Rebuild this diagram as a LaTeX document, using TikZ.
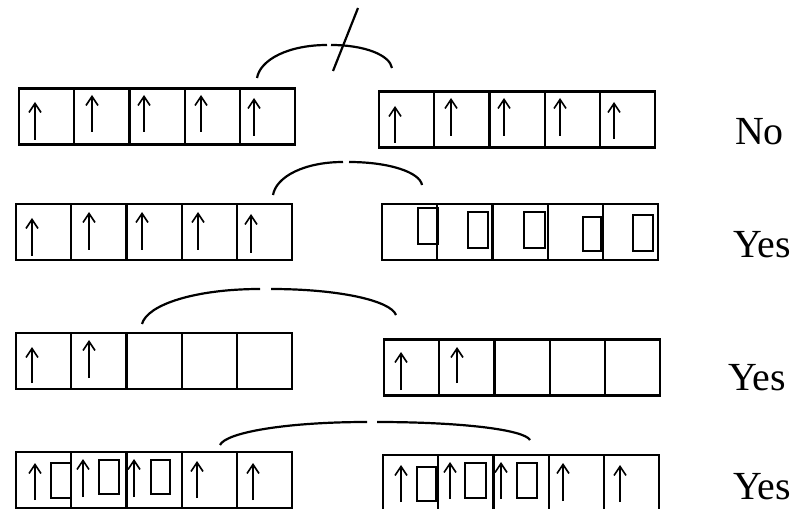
\documentclass[tikz,border=0pt]{standalone}
\usepackage{fontspec}
\setmainfont{Liberation Serif}
\usepackage{tikz}
\usetikzlibrary{positioning,arrows.meta}
\tikzset{
  cell/.style={draw,line width=2.2bp,minimum width=55.2bp,minimum height=56bp,inner sep=0pt},
  spin/.style={line width=1.6bp,-{Straight Barb[length=9bp,width=12bp]}},
  hole/.style={draw,line width=2bp},
  link/.style={line width=2.2bp},
  answer/.style={anchor=base west,inner sep=0pt,font=\fontsize{40}{40}\selectfont}
}
\begin{document}
\begin{tikzpicture}[x=1bp,y=1bp]
  \useasboundingbox (0,0) rectangle (802,-509);
  % two rows of five boxes on each line
  \foreach \r/\lx/\rx/\ly/\ry in {1/19/379/-116.5/-119.5,2/16/382/-232/-232,3/16/384/-361/-367.5,4/16/383/-480/-483}{
    \foreach \c in {1,...,5}{
      \node[cell] (l\r\c) at (\lx+\c*55.2-27.6,\ly) {};
      \node[cell] (r\r\c) at (\rx+\c*55.2-27.6,\ry) {};
    }
  }
  % electrons
  \foreach \x/\b/\t in {35/140/102,92/132/95,144/132/95,201/132/95,254/136/98,
      395/143/106,451/136/98,504/136/98,560/136/98,614/139/102,
      32/256/218,89/250/212,142/250/212,198/250/212,251/253/214,
      32/383/347,89/378/340,401/390/352,457/383/347,
      35/500/463,83/497/459,134/497/459,197/498/461,253/500/463,
      401/502/465,450/499/462,501/499/462,563/501/463,620/502/465}{
    \draw[spin] (\x,-\b) -- (\x,-\t);
  }
  % empty places
  \foreach \a/\b/\c/\d in {418/208/438/244,468/212/488/248,524/212/545/248,583/217/601/251,633/215/653/251,
      51/463/71/498,99/460/119/494,151/460/170/494,
      417/467/436/501,465/463/486/498,517/463/537/498}{
    \draw[hole] (\a,-\b) rectangle (\c,-\d);
  }
  % links between the two rows
  \coordinate (a1) at (257,-78);  \coordinate (g1) at (327,-45);  \coordinate (h1) at (331,-45);  \coordinate (b1) at (392,-68);
  \coordinate (a2) at (273,-195); \coordinate (g2) at (343,-162); \coordinate (h2) at (349,-162); \coordinate (b2) at (422,-185);
  \coordinate (a3) at (142,-324); \coordinate (g3) at (260,-289); \coordinate (h3) at (271,-289); \coordinate (b3) at (396,-315);
  \coordinate (a4) at (220,-445); \coordinate (g4) at (367,-422); \coordinate (h4) at (377,-422); \coordinate (b4) at (530,-440);
  \draw[link] (a1) .. controls +(80:19) and +(180:38) .. (g1) (h1) .. controls +(0:34) and +(100:13) .. (b1);
  \draw[link] (a2) .. controls +(80:19) and +(180:38) .. (g2) (h2) .. controls +(0:40) and +(100:13) .. (b2);
  \draw[link] (a3) .. controls +(75:20) and +(180:65) .. (g3) (h3) .. controls +(0:69) and +(110:15) .. (b3);
  \draw[link] (a4) .. controls +(65:14) and +(180:80) .. (g4) (h4) .. controls +(0:84) and +(120:12) .. (b4);
  \coordinate (s1) at (358,-8); \coordinate (s2) at (333,-71);
  \draw[link] (s1) -- (s2);
  % answers
  \node[answer] (ans1) at (735,-145) {No};
  \node[answer] (ans2) at (733,-258) {Yes};
  \node[answer] (ans3) at (728,-390) {Yes};
  \node[answer] (ans4) at (733,-499) {Yes};
\end{tikzpicture}
\end{document}
